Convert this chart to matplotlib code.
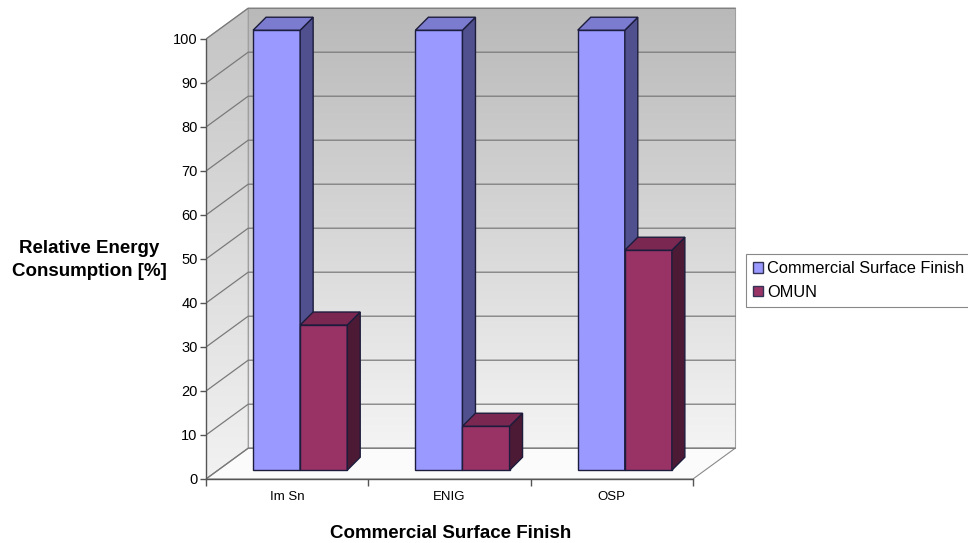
import numpy as np
import matplotlib
matplotlib.use("Agg")
import matplotlib.pyplot as plt
from matplotlib.patches import Polygon, Patch
from matplotlib.colors import LinearSegmentedColormap

plt.rcParams['font.family'] = ['Liberation Sans', 'DejaVu Sans']

# data
categories = ['Im Sn', 'ENIG', 'OSP']
commercial = [100, 100, 100]
omun = [33, 10, 50]
series_names = ['Commercial Surface Finish', 'OMUN']

# styling
front_cols = ['#9999ff', '#993366']
side_cols = ['#50508e', '#4d1a35']
top_cols = ['#7b7bd0', '#7a2852']
edge = '#1c1c3c'

wall_dx, wall_dy = 0.26, 7.0     # depth of the walls (category units, value units)
bar_dx, bar_dy = 0.08, 2.95      # depth of each bar
bar_base = 2.0                   # bars sit a bit back on the floor
bar_w = 0.29
ymax = 100

fig = plt.figure(figsize=(9.68, 5.43), dpi=100, facecolor='w')
ax = fig.add_axes([206 / 968, 64 / 543, 3.3 * 162.33 / 968, 108 * 4.4 / 543])
ax.set_xlim(0, 3.3)
ax.set_ylim(0, 108)
ax.set_facecolor('none')

n = len(categories)

# walls with gradient fill
cmap = LinearSegmentedColormap.from_list('wall', ['#f4f4f4', '#b9b9b9'])
grad = np.linspace(0, 1, 256).reshape(-1, 1)

back = Polygon([(wall_dx, wall_dy), (n + wall_dx, wall_dy),
                (n + wall_dx, ymax + wall_dy), (wall_dx, ymax + wall_dy)],
               closed=True, fc='none', ec='#a0a0a0', lw=0.8, zorder=1)
left = Polygon([(0, 0), (0, ymax), (wall_dx, ymax + wall_dy), (wall_dx, wall_dy)],
               closed=True, fc='none', ec='#a0a0a0', lw=0.8, zorder=1)
floor = Polygon([(0, 0), (n, 0), (n + wall_dx, wall_dy), (wall_dx, wall_dy)],
                closed=True, fc='#fbfbfb', ec='#8a8a8a', lw=0.8, zorder=1)
for p in (back, left, floor):
    ax.add_patch(p)

im1 = ax.imshow(grad, extent=(wall_dx, n + wall_dx, wall_dy, ymax + wall_dy),
                origin='lower', cmap=cmap, aspect='auto', zorder=0.5)
im1.set_clip_path(back)
im2 = ax.imshow(grad, extent=(0, wall_dx, 0, ymax + wall_dy),
                origin='lower', cmap=LinearSegmentedColormap.from_list('lw', ['#f2f2f2', '#c4c4c4']),
                aspect='auto', zorder=0.5)
im2.set_clip_path(left)

# gridlines
for v in range(0, ymax + 1, 10):
    ax.plot([0, wall_dx, n + wall_dx], [v, v + wall_dy, v + wall_dy],
            color='#7a7a7a', lw=0.9, zorder=2)

# bars
for i in range(n):
    for s, vals in enumerate([commercial, omun]):
        x0 = i + bar_w * (1 + s)
        x1 = x0 + bar_w
        y0 = bar_base
        h = vals[i] + bar_base
        z = 3 + s
        ax.add_patch(Polygon([(x0, y0), (x1, y0), (x1, h), (x0, h)],
                             fc=front_cols[s], ec=edge, lw=1, zorder=z))
        ax.add_patch(Polygon([(x1, y0), (x1 + bar_dx, y0 + bar_dy),
                              (x1 + bar_dx, h + bar_dy), (x1, h)],
                             fc=side_cols[s], ec=edge, lw=1, zorder=z))
        ax.add_patch(Polygon([(x0, h), (x1, h), (x1 + bar_dx, h + bar_dy),
                              (x0 + bar_dx, h + bar_dy)],
                             fc=top_cols[s], ec=edge, lw=1, zorder=z))

# axes
for sp in ['top', 'right']:
    ax.spines[sp].set_visible(False)
ax.spines['left'].set_bounds(0, ymax)
ax.spines['bottom'].set_bounds(0, n)
for sp in ['left', 'bottom']:
    ax.spines[sp].set_color('#555555')
    ax.spines[sp].set_linewidth(1.0)
    ax.spines[sp].set_zorder(6)

ax.set_yticks(range(0, ymax + 1, 10))
ax.tick_params(axis='y', direction='out', length=4, width=1, color='#555555',
               labelsize=10.5, pad=2)
ax.set_xticks(range(n + 1))
ax.set_xticklabels([])
ax.set_xticks([i + 0.5 for i in range(n)], minor=True)
ax.set_xticklabels(categories, minor=True,
                   fontdict={'family': ['Liberation Sans Narrow', 'Liberation Sans'], 'size': 9.5})
ax.tick_params(axis='x', which='major', direction='out', length=5, width=1, color='#555555')
ax.tick_params(axis='x', which='minor', length=0, pad=9)

fig.text(89 / 968, 1 - 260 / 543, 'Relative Energy\nConsumption [%]', ha='center', va='center',
         fontsize=13.5, fontweight='bold', linespacing=1.4)
fig.text(451 / 968, 1 - 533 / 543, 'Commercial Surface Finish', ha='center', va='center',
         fontsize=13.5, fontweight='bold')

handles = [Patch(fc=front_cols[s], ec='#333355', lw=1) for s in range(2)]
leg = fig.legend(handles, series_names, loc='upper left', bbox_to_anchor=(746 / 968, 1 - 254 / 543),
                 bbox_transform=fig.transFigure, borderaxespad=0, fancybox=False,
                 edgecolor='#888888', fontsize=11.8, handlelength=0.6, handleheight=0.6,
                 handletextpad=0.25, labelspacing=0.5, borderpad=0.45, framealpha=1)
leg.get_frame().set_linewidth(0.8)

fig.savefig('out.png', dpi=100)
